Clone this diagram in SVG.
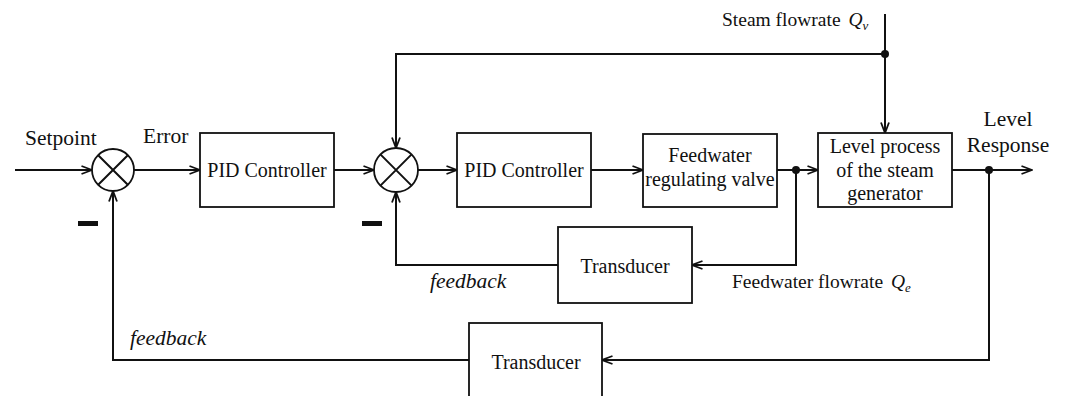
<svg xmlns="http://www.w3.org/2000/svg" width="1067" height="396" viewBox="0 0 1067 396">
<style>
  .box{fill:#fff;stroke:#111;stroke-width:1.8}
  .ln{fill:none;stroke:#111;stroke-width:2}
  .t{font-family:"Liberation Serif","Times New Roman",serif;fill:#111}
  .bt{font-size:20px;text-anchor:middle}
  .lb{font-size:21.5px}
  .it{font-style:italic}
</style>
<defs>
  <marker id="arr" viewBox="0 0 12 10" refX="11.5" refY="5" markerWidth="12" markerHeight="10" markerUnits="userSpaceOnUse" orient="auto">
    <path d="M1,1 L11.5,5 L1,9" fill="none" stroke="#111" stroke-width="1.8"/>
  </marker>
</defs>
<rect width="1067" height="396" fill="#fff"/>

<g id="connectors">
  <path class="ln" d="M15,170 H92" marker-end="url(#arr)"/>
  <path class="ln" d="M134,170 H200" marker-end="url(#arr)"/>
  <path class="ln" d="M334,170 H374" marker-end="url(#arr)"/>
  <path class="ln" d="M418,170 H457" marker-end="url(#arr)"/>
  <path class="ln" d="M591,170 H643" marker-end="url(#arr)"/>
  <path class="ln" d="M777,170 H818" marker-end="url(#arr)"/>
  <path class="ln" d="M952,170 H1032" marker-end="url(#arr)"/>
  <path class="ln" d="M885,14 V133" marker-end="url(#arr)"/>
  <path class="ln" d="M885,54 H396 V148" marker-end="url(#arr)"/>
  <path class="ln" d="M796,170 V265 H692" marker-end="url(#arr)"/>
  <path class="ln" d="M558,265 H396 V192" marker-end="url(#arr)"/>
  <path class="ln" d="M989,170 V360 H602" marker-end="url(#arr)"/>
  <path class="ln" d="M469,360 H113 V191" marker-end="url(#arr)"/>
  <circle cx="885" cy="54" r="4" fill="#111"/>
  <circle cx="796" cy="170" r="4" fill="#111"/>
  <circle cx="989" cy="170" r="4" fill="#111"/>
</g>

<g id="sum1">
  <circle class="box" cx="113" cy="170" r="21"/>
  <path class="ln" stroke-width="1.6" d="M98.2,155.2 L127.8,184.8 M127.8,155.2 L98.2,184.8"/>
  <rect x="78" y="221" width="20" height="5" fill="#111"/>
</g>
<g id="sum2">
  <circle class="box" cx="396" cy="170" r="22"/>
  <path class="ln" stroke-width="1.6" d="M380.4,154.4 L411.6,185.6 M411.6,154.4 L380.4,185.6"/>
  <rect x="362" y="221" width="20" height="5" fill="#111"/>
</g>

<g id="pid1">
  <rect class="box" x="200" y="133" width="134" height="74"/>
  <text class="t bt" x="267" y="177">PID Controller</text>
</g>
<g id="pid2">
  <rect class="box" x="457" y="133" width="134" height="74"/>
  <text class="t bt" x="524" y="177">PID Controller</text>
</g>
<g id="valve">
  <rect class="box" x="643" y="134" width="134" height="73"/>
  <text class="t bt" x="710" y="162">Feedwater</text>
  <text class="t bt" x="710" y="186">regulating valve</text>
</g>
<g id="process">
  <rect class="box" x="818" y="133" width="134" height="74"/>
  <text class="t bt" x="885" y="153">Level process</text>
  <text class="t bt" x="885" y="177">of the steam</text>
  <text class="t bt" x="885" y="200">generator</text>
</g>
<g id="transducer1">
  <rect class="box" x="558" y="227" width="134" height="76"/>
  <text class="t bt" x="625" y="273">Transducer</text>
</g>
<g id="transducer2">
  <rect class="box" x="469" y="323" width="133" height="80"/>
  <text class="t bt" x="536" y="369">Transducer</text>
</g>

<g id="labels">
  <text class="t lb" x="25" y="145">Setpoint</text>
  <text class="t lb" x="143" y="143">Error</text>
  <text class="t lb" x="1008" y="126" text-anchor="middle">Level</text>
  <text class="t lb" x="1008" y="152" text-anchor="middle">Response</text>
  <text class="t" font-size="19.5" x="722" y="26">Steam flowrate <tspan class="it" dx="3">Q</tspan><tspan class="it" font-size="13" dy="4">v</tspan></text>
  <text class="t" font-size="19.5" x="732" y="288">Feedwater flowrate <tspan class="it" dx="3">Q</tspan><tspan class="it" font-size="13" dy="4">e</tspan></text>
  <text class="t lb it" x="430" y="288">feedback</text>
  <text class="t lb it" x="130" y="345">feedback</text>
</g>
</svg>
